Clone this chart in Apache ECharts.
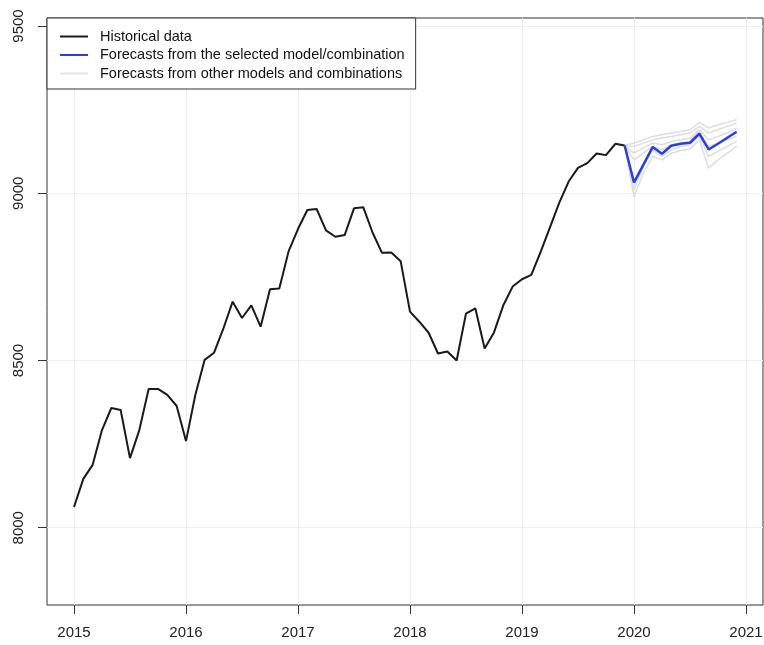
<!DOCTYPE html>
<html>
<head>
<meta charset="utf-8">
<title>Forecasts</title>
<script src="https://cdn.jsdelivr.net/npm/echarts@6/dist/echarts.min.js"></script>
<style>
  html, body { margin: 0; padding: 0; background: #fff; }
  #main { width: 764px; height: 645px; }
</style>
</head>
<body>
<div id="main"></div>
<script>
// monthly values, Jan 2015 .. Dec 2019
var startYear = 2015;
var historical = [
  8062, 8146, 8188, 8292, 8358, 8352, 8208, 8292, 8415, 8415, 8397, 8364,
  8259, 8397, 8502, 8523, 8595, 8676, 8627, 8665, 8601, 8713, 8715, 8827,
  8893, 8950, 8953, 8889, 8870, 8875, 8955, 8958, 8882, 8822, 8823, 8797,
  8646, 8616, 8583, 8521, 8527, 8500, 8640, 8656, 8536, 8584, 8665, 8721,
  8743, 8756, 8825, 8898, 8972, 9035, 9076, 9090, 9119, 9114, 9148, 9143
];
// Jan 2020 .. Dec 2020
var selectedForecast = [9032, 9085, 9138, 9118, 9142, 9148, 9151, 9178, 9131, 9148, 9166, 9184];
var otherForecasts = [
  [9150, 9160, 9170, 9175, 9180, 9185, 9190, 9212, 9195, 9205, 9212, 9220],
  [9140, 9150, 9160, 9165, 9170, 9175, 9180, 9200, 9180, 9190, 9200, 9210],
  [9120, 9135, 9150, 9145, 9155, 9160, 9165, 9190, 9160, 9170, 9180, 9195],
  [8990, 9060, 9110, 9100, 9120, 9128, 9132, 9160, 9075, 9100, 9120, 9140],
  [9010, 9080, 9130, 9110, 9130, 9140, 9145, 9170, 9110, 9125, 9140, 9155],
  [9100, 9120, 9140, 9130, 9145, 9150, 9155, 9185, 9140, 9150, 9160, 9170]
];
var yearTicks = [2015, 2016, 2017, 2018, 2019, 2020, 2021];
var valueTicks = [8000, 8500, 9000, 9500];

var names = ['Historical data',
  'Forecasts from the selected model/combination',
  'Forecasts from other models and combinations'];

function toTime(i) { return startYear + i / 12; }

var histData = historical.map(function (v, i) { return [toTime(i), v]; });
var lastIdx = historical.length - 1;
function forecastData(arr) {
  var out = [[toTime(lastIdx), historical[lastIdx]]];
  arr.forEach(function (v, i) { out.push([toTime(lastIdx + 1 + i), v]); });
  return out;
}

var series = [];
otherForecasts.forEach(function (arr) {
  series.push({
    name: names[2], type: 'line', data: forecastData(arr), symbol: 'none', z: 2,
    color: '#dddddd', lineStyle: { color: '#dddddd', width: 1.5 }
  });
});
series.push({
  name: names[0], type: 'line', data: histData, symbol: 'none', z: 3,
  color: '#1a1a1a', lineStyle: { color: '#1a1a1a', width: 2 }
});
series.push({
  name: names[1], type: 'line', data: forecastData(selectedForecast), symbol: 'none', z: 4,
  color: '#2b3fdc', lineStyle: { color: '#2b3fdc', width: 2.5 }
});

var chart = echarts.init(document.getElementById('main'));
chart.setOption({
  animation: false,
  grid: {
    left: 47, right: 1, top: 18, bottom: 40,
    outerBoundsMode: 'none',
    show: true, borderColor: '#333', borderWidth: 1, backgroundColor: '#fff'
  },
  legend: {
    left: 47, top: 18, orient: 'vertical',
    backgroundColor: '#fff', borderColor: '#333', borderWidth: 1,
    padding: [11, 11, 8, 13], itemGap: 3.5, itemWidth: 28, itemHeight: 2,
    textStyle: { fontFamily: 'Liberation Sans', fontSize: 14.5, color: '#111', padding: [0, 0, 0, 7] },
    selectedMode: false,
    data: [
      { name: names[0], icon: 'rect', itemStyle: { color: '#1a1a1a' } },
      { name: names[1], icon: 'rect', itemStyle: { color: '#2b3fdc' } },
      { name: names[2], icon: 'rect', itemStyle: { color: '#e4e4e4' } }
    ]
  },
  xAxis: {
    type: 'value', min: 2014.759, max: 2021.152,
    splitLine: { show: true, lineStyle: { color: '#eeeeee', width: 1 } },
    axisLine: { show: false },
    axisTick: { show: true, length: 9, customValues: yearTicks, lineStyle: { color: '#333' } },
    axisLabel: {
      customValues: yearTicks, margin: 20, color: '#222',
      fontFamily: 'Liberation Sans', fontSize: 15,
      formatter: function (v) { return String(Math.round(v)); }
    }
  },
  yAxis: {
    type: 'value', min: 7769, max: 9524,
    splitLine: { show: true, lineStyle: { color: '#eeeeee', width: 1 } },
    axisLine: { show: false },
    axisTick: { show: true, length: 9, customValues: valueTicks, lineStyle: { color: '#333' } },
    axisLabel: {
      customValues: valueTicks, rotate: 90, margin: 21, color: '#222',
      fontFamily: 'Liberation Sans', fontSize: 15,
      formatter: function (v) { return String(Math.round(v)); }
    }
  },
  series: series
});
</script>
</body>
</html>
